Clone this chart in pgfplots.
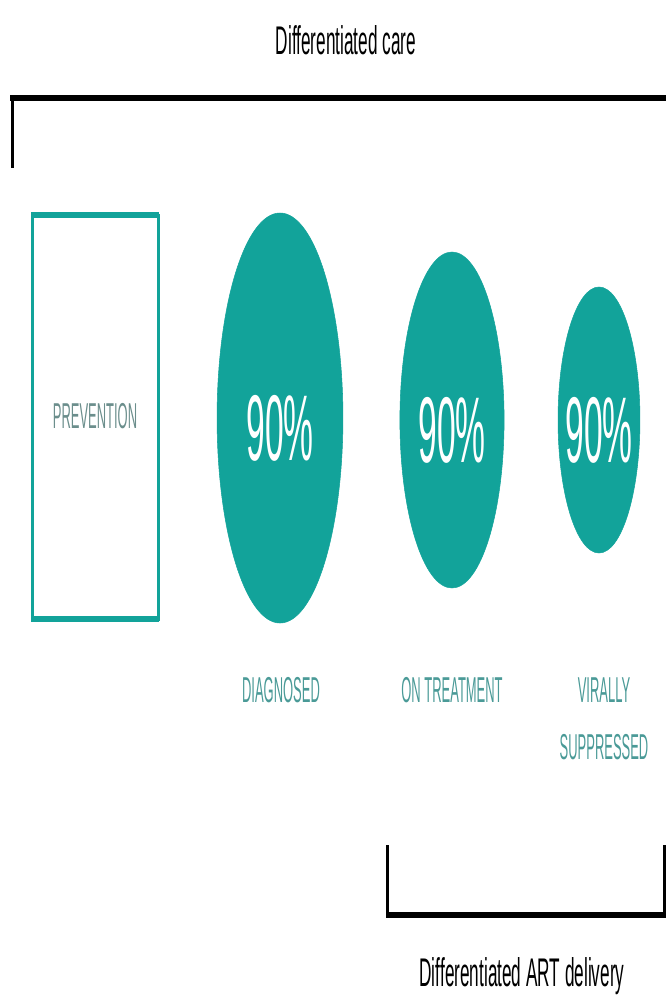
\documentclass[border=0pt]{standalone}
\usepackage{pgfplots}
\pgfplotsset{compat=1.18}
\usepackage{graphicx}
\usepackage{fontspec}
\setmainfont{Liberation Sans}
\definecolor{tealc}{HTML}{12A39A}
\definecolor{labc}{HTML}{4A9A97}
\definecolor{prevc}{HTML}{6B8E8C}
\newcommand{\sq}[2][0.36]{\scalebox{#1}[1]{#2}}
\begin{document}
\begin{tikzpicture}
\begin{axis}[scale only axis, width=499.5pt, height=751.5pt,
  xmin=0, xmax=666, ymin=0, ymax=1002, y dir=reverse,
  hide axis, clip=false,
  pct/.style={only marks, mark=*, color=tealc,
    point meta=explicit symbolic,
    nodes near coords={\sq{\pgfplotspointmeta}},
    nodes near coords align={anchor=center},
    every node near coord/.append style={text=white, font=\fontsize{70}{80}\selectfont, yshift=-8pt}}]
\path (axis cs:0,0) rectangle (axis cs:666,1002);
% cascade: 90% diagnosed, 90% on treatment, 90% virally suppressed
\addplot[pct, mark size=153.75pt, mark options={xscale=0.307, fill=tealc, draw=tealc}] coordinates {(280,418)[90\%]};
\addplot[pct, mark size=126pt, mark options={xscale=0.31, fill=tealc, draw=tealc}] coordinates {(452,420)[90\%]};
\addplot[pct, mark size=99.75pt, mark options={xscale=0.308, fill=tealc, draw=tealc}] coordinates {(599,420)[90\%]};
% prevention box
\draw[tealc, line width=2.25pt] (axis cs:32,215) rectangle (axis cs:158,619);
\draw[tealc, line width=4pt] (axis cs:31,215) -- (axis cs:159,215);
\draw[tealc, line width=4pt] (axis cs:31,619) -- (axis cs:159,619);
\node[text=prevc, font=\fontsize{27}{32}\selectfont] at (axis cs:95,416) {\sq{PREVENTION}};
% labels
\node[text=labc, font=\fontsize{27}{32}\selectfont] at (axis cs:281,690) {\sq{DIAGNOSED}};
\node[text=labc, font=\fontsize{27}{32}\selectfont] at (axis cs:452,690) {\sq{ON TREATMENT}};
\node[text=labc, font=\fontsize{27}{32}\selectfont] at (axis cs:604,690) {\sq{VIRALLY}};
\node[text=labc, font=\fontsize{27}{32}\selectfont] at (axis cs:604,747) {\sq{SUPPRESSED}};
% top bracket
\node[font=\fontsize{30}{36}\selectfont] at (axis cs:346,40) {\sq[0.43]{Differentiated care}};
\draw[black, line width=4.5pt] (axis cs:10,98) -- (axis cs:666,98);
\draw[black, line width=2.25pt] (axis cs:12,96) -- (axis cs:12,168);
% bottom bracket
\draw[black, line width=2.25pt] (axis cs:387,845) -- (axis cs:387,916);
\draw[black, line width=2.25pt] (axis cs:664,845) -- (axis cs:664,916);
\draw[black, line width=4.5pt] (axis cs:386,915) -- (axis cs:666,915);
\node[font=\fontsize{30}{36}\selectfont] at (axis cs:522,976) {\sq[0.43]{Differentiated ART delivery}};
\end{axis}
\end{tikzpicture}
\end{document}
